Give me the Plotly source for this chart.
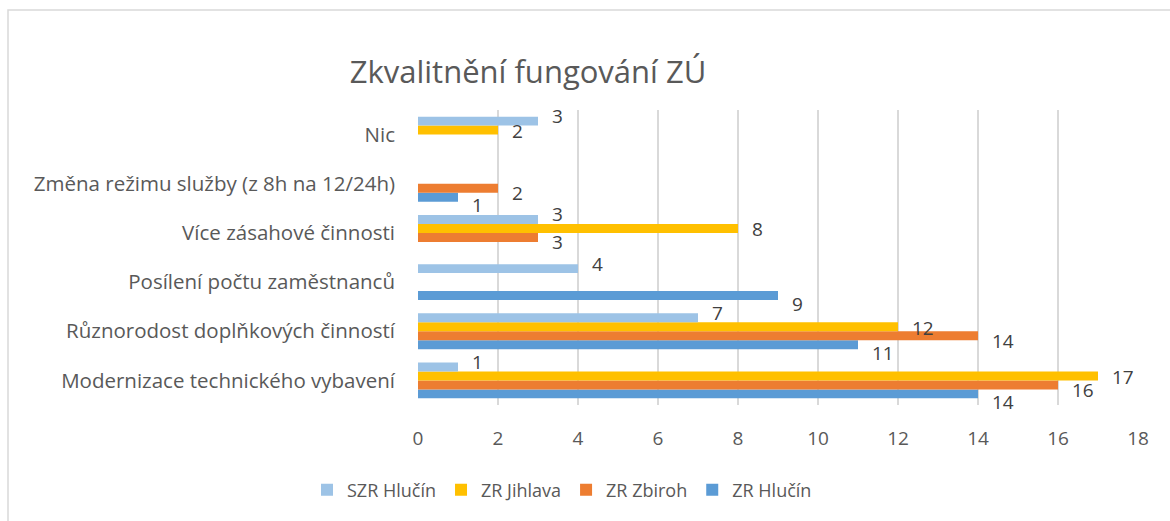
import plotly.graph_objects as go

# kategorie (odspodu nahoru, jak je kreslí plotly)
categories = [
    'Modernizace technického vybavení',
    'Různorodost doplňkových činností',
    'Posílení počtu zaměstnanců',
    'Více zásahové činnosti',
    'Změna režimu služby (z 8h na 12/24h)',
    'Nic',
]

zr_hlucin = [14, 11, 9, None, 1, None]
zr_zbiroh = [16, 14, None, 3, 2, None]
zr_jihlava = [17, 12, None, 8, None, 2]
szr_hlucin = [1, 7, 4, 3, None, 3]

x_ticks = [0, 2, 4, 6, 8, 10, 12, 14, 16, 18]

FONT = 'Open Sans'
GREY = '#595959'

# pořadí přidání = pořadí zdola nahoru ve skupině
series = [
    ('ZR Hlučín', zr_hlucin, '#5b9bd5'),
    ('ZR Zbiroh', zr_zbiroh, '#ed7d31'),
    ('ZR Jihlava', zr_jihlava, '#ffc000'),
    ('SZR Hlučín', szr_hlucin, '#9dc3e6'),
]

# plot area in pixels: x 418..1138, y 110..405
L, R, T, B = 418, 32, 110, 116
W, H = 1170, 521
pw = W - L - R
ph = H - T - B
BARGAP = 0.27

def px_x(p):
    return (p - L) / pw

def px_y(p):
    return (H - B - p) / ph

fig = go.Figure()
for name, vals, color in series:
    fig.add_trace(go.Bar(
        y=categories,
        x=vals,
        name=name,
        orientation='h',
        marker=dict(color=color, line=dict(width=0)),
    ))

# popisky dat (jako v Excelu - vpravo od konce sloupce, trochu rozestoupené)
cat_px = ph / len(categories)
group_px = cat_px * (1 - BARGAP)
bar_px = group_px / len(series)
label_down = [8, 5, 1, -5]  # posun popisku dolů (px) pro každou řadu
for i, (name, vals, color) in enumerate(series):
    off = (i + 0.5) * bar_px - group_px / 2
    for cat, v in zip(categories, vals):
        if v is None:
            continue
        fig.add_annotation(
            x=v, y=cat, text=str(v),
            showarrow=False,
            xanchor='left', yanchor='middle',
            xshift=12, yshift=off - label_down[i],
            font=dict(family=FONT, size=19, color='#404040'),
        )

fig.update_layout(
    width=W,
    height=H,
    margin=dict(l=L, r=R, t=T, b=B, autoexpand=False),
    paper_bgcolor='white',
    plot_bgcolor='white',
    barmode='group',
    bargap=BARGAP,
    bargroupgap=0,
    font=dict(family=FONT, color=GREY),
    title=dict(
        text='Zkvalitnění fungování ZÚ',
        x=px_x(528), xref='paper', xanchor='center',
        y=1 - 72 / H, yref='container', yanchor='middle',
        font=dict(family=FONT, size=31, color=GREY),
    ),
    legend=dict(
        orientation='h',
        traceorder='reversed',
        x=px_x(562), xanchor='center',
        y=px_y(490), yanchor='middle',
        font=dict(family=FONT, size=18, color=GREY),
        itemwidth=30,
    ),
    showlegend=True,
)

fig.update_xaxes(
    range=[0, 18],
    tickvals=x_ticks,
    showgrid=True,
    gridcolor='#d9d9d9',
    gridwidth=1.5,
    zeroline=False,
    showline=False,
    ticks='',
    automargin=False,
    ticklabelstandoff=20,
    tickfont=dict(family=FONT, size=19, color=GREY),
)
fig.update_yaxes(
    range=[-0.5, len(categories) - 0.5],
    showgrid=False,
    showline=False,
    ticks='',
    automargin=False,
    ticklabelstandoff=22,
    tickfont=dict(family=FONT, size=20.5, color=GREY),
)

# rámeček grafu
fig.add_shape(
    type='rect', xref='paper', yref='paper',
    x0=px_x(8), x1=px_x(1180), y0=px_y(530), y1=px_y(10),
    line=dict(color='#d9d9d9', width=1.5),
    fillcolor='rgba(0,0,0,0)',
    layer='below',
)

fig.write_html('out.html', config={'displayModeBar': False},
               post_script="document.body.style.margin='0';")
